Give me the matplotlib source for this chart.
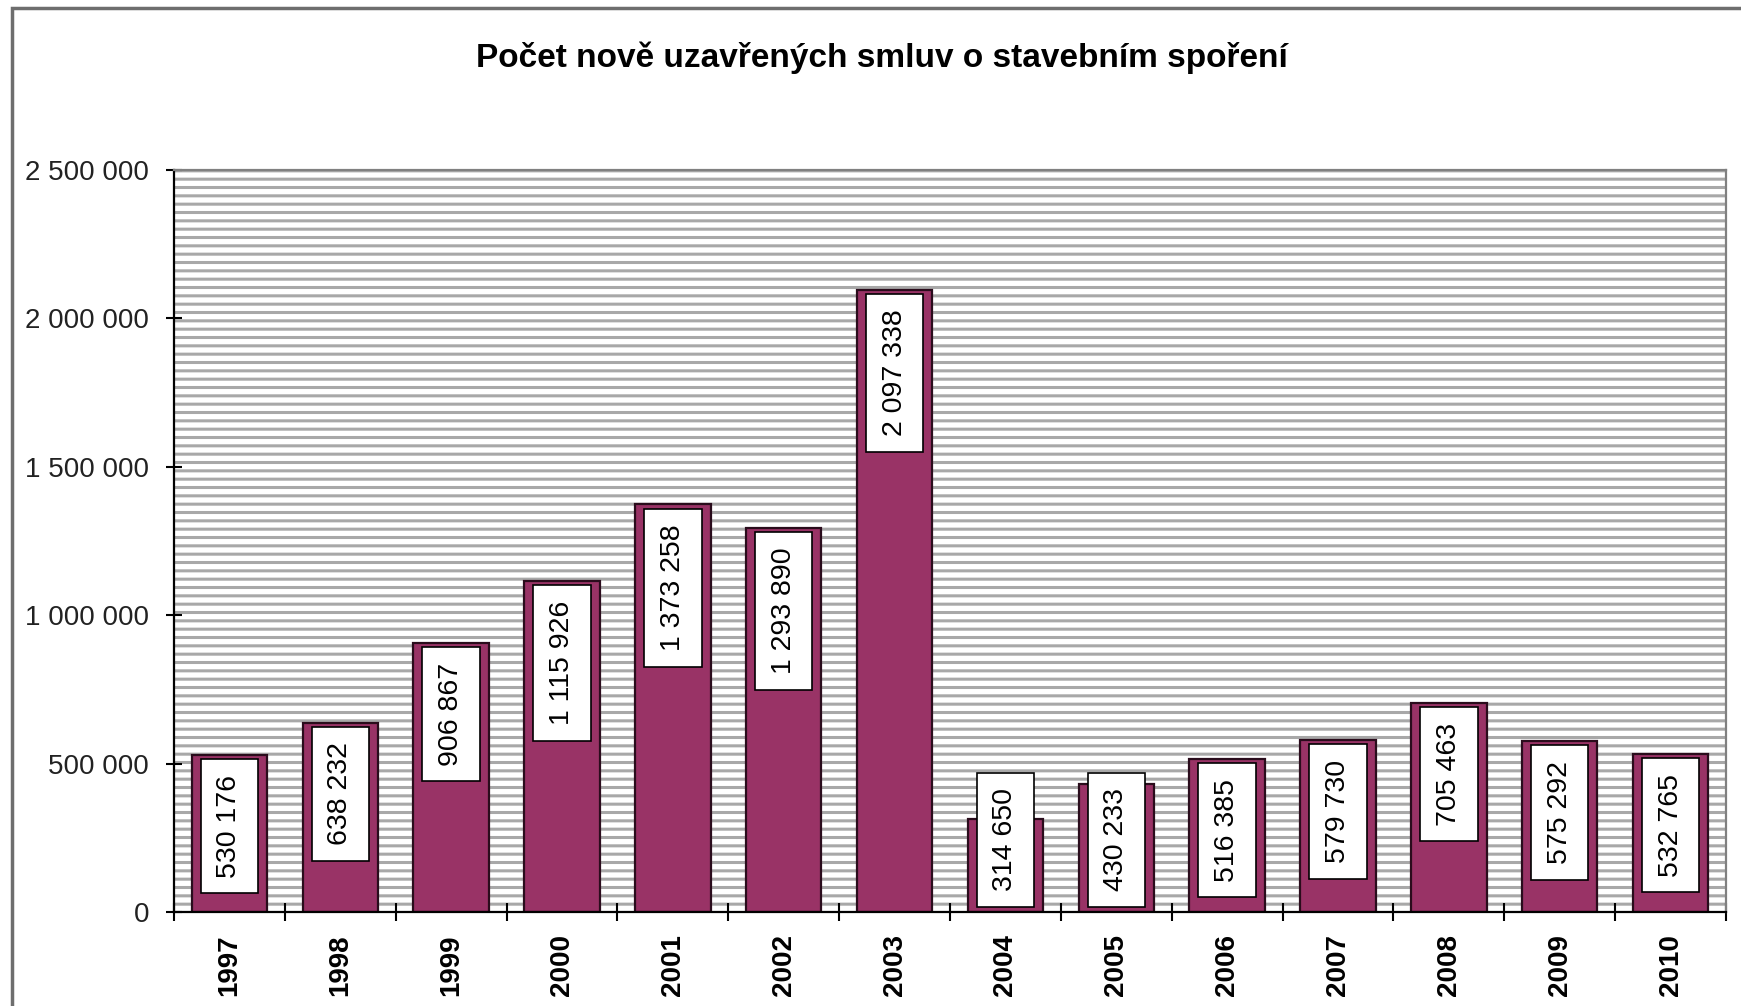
import matplotlib
matplotlib.use("Agg")
import matplotlib.pyplot as plt
from matplotlib.patches import Rectangle
from matplotlib.ticker import FixedLocator, FuncFormatter
import numpy as np

# ---------------------------------------------------------------------------
# Data
# ---------------------------------------------------------------------------

years = ["1997", "1998", "1999", "2000", "2001", "2002", "2003",
         "2004", "2005", "2006", "2007", "2008", "2009", "2010"]
contracts = [530176, 638232, 906867, 1115926, 1373258, 1293890, 2097338,
             314650, 430233, 516385, 579730, 705463, 575292, 532765]
y_ticks = [0, 500000, 1000000, 1500000, 2000000, 2500000]
title = "Počet nově uzavřených smluv o stavebním spoření"

BAR_COLOR = "#993366"
FONT = "Liberation Sans"

plt.rcParams["font.family"] = [FONT, "DejaVu Sans"]
plt.rcParams["hatch.linewidth"] = 2.2


def _space_thousands(v, _pos=None):
    return f"{v:,.0f}".replace(",", " ")


W, H = 1741, 1006
fig = plt.figure(figsize=(W / 100, H / 100), dpi=100)
fig.patch.set_facecolor("white")

# outer chart frame (only top and left edges fall inside the picture)
fig.add_artist(Rectangle((12 / W, -0.05), 1.0, 1 - 8 / H + 0.05,
                         transform=fig.transFigure, fill=False,
                         edgecolor="#6e6e6e", lw=2.5))

left, right, top, bottom = 174, 1726, 170, 912
ax = fig.add_axes([left / W, (H - bottom) / H, (right - left) / W, (bottom - top) / H])

# striped plot-area background
ax.patch.set_visible(False)
ax.add_patch(Rectangle((0, 0), 1, 1, transform=ax.transAxes, facecolor="white",
                       edgecolor="#a8a8a8", hatch="--", lw=0, zorder=0))

x = np.arange(len(years))
ax.bar(x, contracts, width=0.68, color=BAR_COLOR, edgecolor="#2a0c1c",
       linewidth=1.6, zorder=2)

ax.set_xlim(-0.5, len(years) - 0.5)
ax.set_ylim(0, y_ticks[-1])

# ---------------------------------------------------------------------------
# Value labels: white boxes at the inside end, or resting on the axis if short
# ---------------------------------------------------------------------------

label_min = 480000
box = dict(boxstyle="square,pad=0.55", facecolor="white", edgecolor="black", lw=1.2)
for xi, v in zip(x, contracts):
    txt = _space_thousands(v)
    if v >= label_min:
        ax.annotate(txt, xy=(xi, v), xytext=(0, -14.3), textcoords="offset points",
                    rotation=90, ha="center", va="top", fontsize=20.5,
                    bbox=box, zorder=3)
    else:
        ax.annotate(txt, xy=(xi, 0), xytext=(0, 15), textcoords="offset points",
                    rotation=90, ha="center", va="bottom", fontsize=20.5,
                    bbox=box, zorder=3)

# ---------------------------------------------------------------------------
# Axes styling
# ---------------------------------------------------------------------------

ax.yaxis.set_major_locator(FixedLocator(y_ticks))
ax.yaxis.set_major_formatter(FuncFormatter(_space_thousands))
ax.tick_params(axis="y", direction="inout", length=12, width=1.5, pad=12,
               labelsize=20, labelcolor="#222222")

ax.set_xticks(x)
ax.set_xticklabels(years, rotation=90, fontsize=20, fontweight="bold")
ax.set_xticks(np.arange(-0.5, len(years)), minor=True)
ax.tick_params(axis="x", which="major", length=0, pad=16)
ax.tick_params(axis="x", which="minor", direction="inout", length=13, width=1.5)

for side in ("left", "bottom"):
    ax.spines[side].set_color("black")
    ax.spines[side].set_linewidth(1.6)
for side in ("top", "right"):
    ax.spines[side].set_color("#808080")
    ax.spines[side].set_linewidth(1.6)

fig.text(882 / W, 1 - 58 / H, title, ha="center", va="center",
         fontsize=24, fontweight="bold")

fig.savefig("out.png", dpi=100)
